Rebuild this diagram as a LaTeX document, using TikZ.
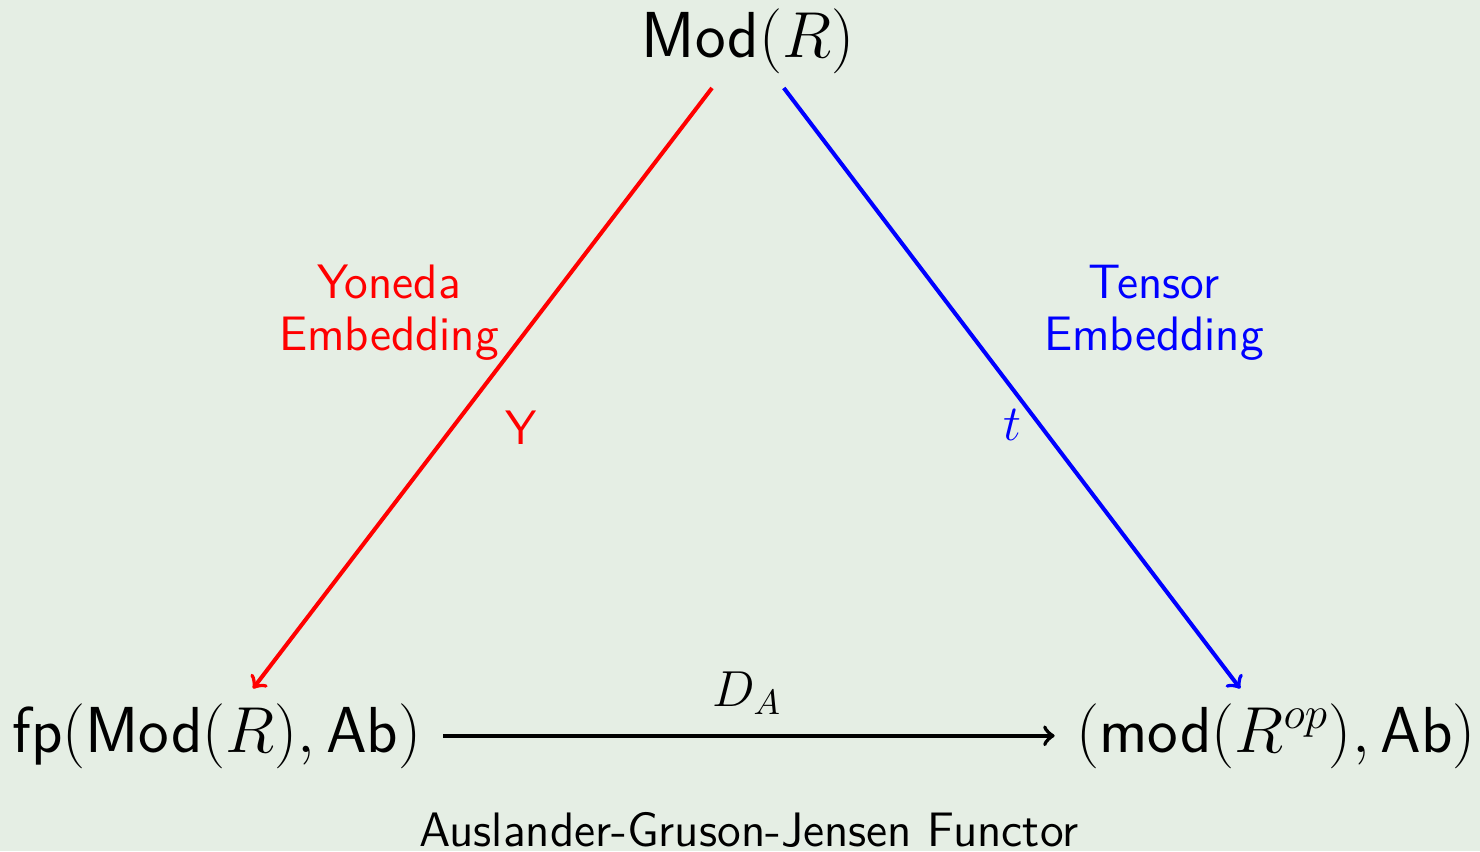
\documentclass[tikz,border=0pt]{standalone}
\usepackage{graphicx}
\definecolor{bg}{RGB}{229,238,228}
\newcommand{\objbox}[1]{\scalebox{1.07}{\LARGE #1}}
\begin{document}
\begin{tikzpicture}[x=0.01cm,y=-0.01cm,
  obj/.style={inner sep=4pt},
  lbl/.style={font=\fontsize{13.75}{14.8}\selectfont\sffamily, align=center, inner sep=0pt},
  mlbl/.style={font=\fontsize{14.4}{16}\selectfont, inner sep=0pt},
  arr/.style={->, line width=1.15pt}]
\useasboundingbox (0,0) rectangle (1480,851);
\fill[bg] (0,0) rectangle (1480,851);
\node[obj, anchor=base] (top) at (748,57) {\objbox{$\mathsf{Mod}(R)$}};
\node[obj, anchor=base] (fp) at (217,752) {\objbox{$\mathsf{fp}(\mathsf{Mod}(R),\mathsf{Ab})$}};
\node[obj, anchor=base] (mo) at (1276,752) {\objbox{$(\mathsf{mod}(R^{op}),\mathsf{Ab})$}};
\draw[arr, red] (top) -- (fp);
\draw[arr, blue] (top) -- (mo);
\draw[arr, shorten >=0.07cm, shorten <=0.07cm] (fp) -- (mo);
\node[mlbl] (da) at (747,693) {$D_A$};
\node[lbl, red] (yon) at (389,313) {Yoneda\\Embedding};
\node[lbl, blue] (ten) at (1154,313) {Tensor\\Embedding};
\node[lbl, red] (Y) at (521,428) {Y};
\node[mlbl, blue] (t) at (1012,425) {$t$};
\node[lbl, anchor=base] (agj) at (749,846) {Auslander-Gruson-Jensen Functor};
\end{tikzpicture}
\end{document}
